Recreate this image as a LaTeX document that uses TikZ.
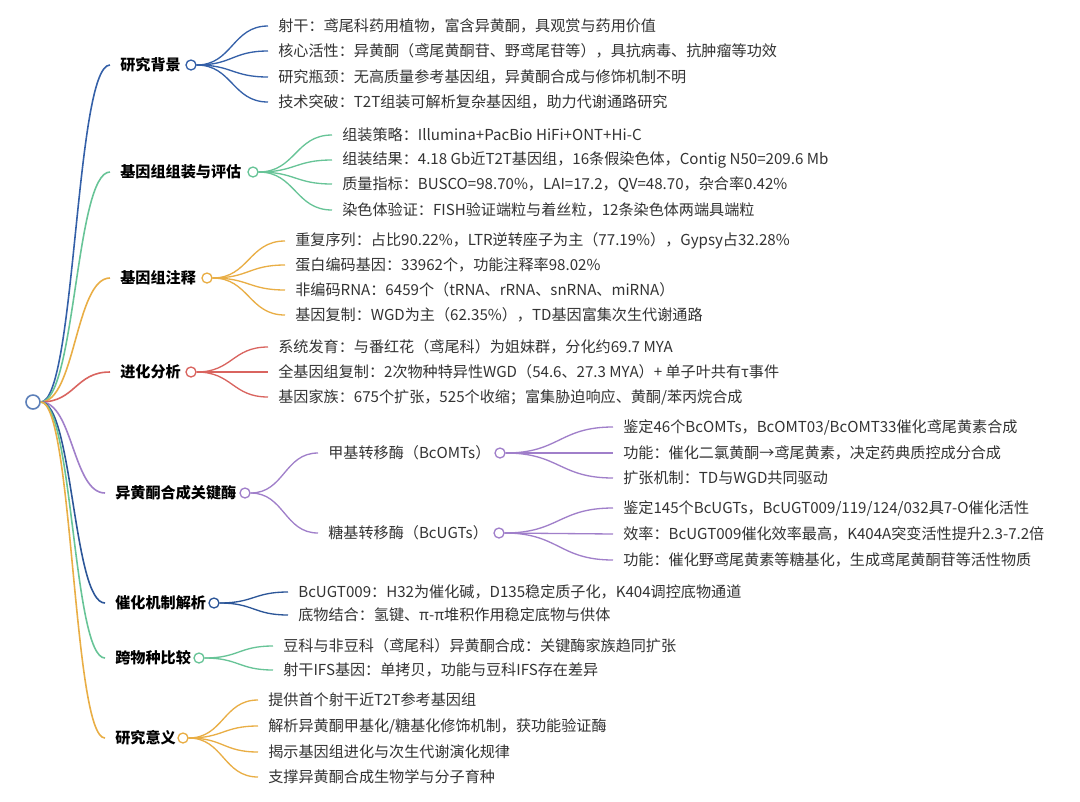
\documentclass[tikz,border=0pt]{standalone}
\usepackage{fontspec}
\setmainfont{Noto Sans CJK SC}
\definecolor{mmBlue}{HTML}{3460A8}
\definecolor{mmGreen}{HTML}{67C497}
\definecolor{mmOrange}{HTML}{E9AE45}
\definecolor{mmRed}{HTML}{D9645F}
\definecolor{mmPurple}{HTML}{A07FCA}
\definecolor{mmNavy}{HTML}{2C5698}
\definecolor{mmText}{HTML}{333333}
\usetikzlibrary{calc}
\tikzset{
	zhuti/.style={
		anchor=west,
		inner xsep=0.2cm,
		inner ysep=1pt,
		font=\fontsize{8.6}{10}\selectfont\bfseries,
		text=black
	},
	yezi/.style={
		anchor=west,
		inner xsep=0.2cm,
		inner ysep=1pt,
		font=\fontsize{8.6}{10}\selectfont,
		text=mmText
	},
	quan/.style={
		circle,
		draw=#1,
		fill=white,
		line width=0.75pt,
		inner sep=0pt,
		minimum size=0.2cm
	},
	genquan/.style={
		circle,
		draw=mmBlue!80,
		fill=white,
		line width=0.9pt,
		inner sep=0pt,
		minimum size=0.28cm
	},
	lian/.style={
		draw=#1,
		line width=0.75pt,
		to path={.. controls ($(\tikztostart)!0.5!(\tikztostart -| \tikztotarget)$)
			and ($(\tikztotarget)!0.5!(\tikztotarget -| \tikztostart)$) .. (\tikztotarget)}
	}
}
\begin{document}
\begin{tikzpicture}[x=0.02cm, y=-0.02cm]
		\path[fill=white, use as bounding box] (0,0) rectangle (1080,802);
		\node[genquan] (gen) at (33,402) {};
		%研究背景
		\node[zhuti] (bj) at (110,65) {研究背景};
		\node[quan=mmBlue] (bjq) at (191,65) {};
		\foreach \y/\t [count=\i] in {26/{射干：鸢尾科药用植物，富含异黄酮，具观赏与药用价值},
			51/{核心活性：异黄酮（鸢尾黄酮苷、野鸢尾苷等），具抗病毒、抗肿瘤等功效},
			77/{研究瓶颈：无高质量参考基因组，异黄酮合成与修饰机制不明},
			102/{技术突破：T2T组装可解析复杂基因组，助力代谢通路研究}}{
			\node[yezi] (bj\i) at (268,\y) {\t};
			\draw[lian=mmBlue] (bjq.east) to (bj\i.west);
		}
		% 基因组组装与评估
		\node[zhuti] (zz) at (110,172) {基因组组装与评估};
		\node[quan=mmGreen] (zzq) at (253,172) {};
		\foreach \y/\t [count=\i] in {135/{组装策略：Illumina+PacBio HiFi+ONT+Hi-C},
			160/{组装结果：4.18 Gb近T2T基因组，16条假染色体，Contig N50=209.6 Mb},
			184/{质量指标：BUSCO=98.70\%，LAI=17.2，QV=48.70，杂合率0.42\%},
			210/{染色体验证：FISH验证端粒与着丝粒，12条染色体两端具端粒}}{
			\node[yezi] (zz\i) at (332,\y) {\t};
			\draw[lian=mmGreen] (zzq.east) to (zz\i.west);
		}
		% 基因组注释
		\node[zhuti] (zs) at (110,278) {基因组注释};
		\node[quan=mmOrange] (zsq) at (207,278) {};
		\foreach \y/\t [count=\i] in {241/{重复序列：占比90.22\%，LTR逆转座子为主（77.19\%），Gypsy占32.28\%},
			265/{蛋白编码基因：33962个，功能注释率98.02\%},
			290/{非编码RNA：6459个（tRNA、rRNA、snRNA、miRNA）},
			315/{基因复制：WGD为主（62.35\%），TD基因富集次生代谢通路}}{
			\node[yezi] (zs\i) at (285,\y) {\t};
			\draw[lian=mmOrange] (zsq.east) to (zs\i.west);
		}
		% 进化分析
		\node[zhuti] (jh) at (110,372) {进化分析};
		\node[quan=mmRed] (jhq) at (191,372) {};
		\foreach \y/\t [count=\i] in {347/{系统发育：与番红花（鸢尾科）为姐妹群，分化约69.7 MYA},
			372/{全基因组复制：2次物种特异性WGD（54.6、27.3 MYA）+ 单子叶共有τ事件},
			397/{基因家族：675个扩张，525个收缩；富集胁迫响应、黄酮/苯丙烷合成}}{
			\node[yezi] (jh\i) at (268,\y) {\t};
			\draw[lian=mmRed] (jhq.east) to (jh\i.west);
		}
		% 异黄酮合成关键酶
		\node[zhuti] (m) at (105,493) {异黄酮合成关键酶};
		\node[quan=mmPurple] (mq) at (245,493) {};
		\node[yezi] (omt) at (318,453) {甲基转移酶（BcOMTs）};
		\node[quan=mmPurple] (omtq) at (500,453) {};
		\node[yezi] (ugt) at (318,533) {糖基转移酶（BcUGTs）};
		\node[quan=mmPurple] (ugtq) at (499,533) {};
		\draw[lian=mmPurple] (mq.east) to (omt.west);
		\draw[lian=mmPurple] (mq.east) to (ugt.west);
		\foreach \y/\t [count=\i] in {427/{鉴定46个BcOMTs，BcOMT03/BcOMT33催化鸢尾黄素合成},
			453/{功能：催化二氯黄酮→鸢尾黄素，决定药典质控成分合成},
			478/{扩张机制：TD与WGD共同驱动}}{
			\node[yezi] (omt\i) at (613,\y) {\t};
			\draw[lian=mmPurple] (omtq.east) to (omt\i.west);
		}
		\foreach \y/\t [count=\i] in {508/{鉴定145个BcUGTs，BcUGT009/119/124/032具7-O催化活性},
			534/{效率：BcUGT009催化效率最高，K404A突变活性提升2.3-7.2倍},
			560/{功能：催化野鸢尾黄素等糖基化，生成鸢尾黄酮苷等活性物质}}{
			\node[yezi] (ugt\i) at (613,\y) {\t};
			\draw[lian=mmPurple] (ugtq.east) to (ugt\i.west);
		}
		% 催化机制解析
		\node[zhuti] (ch) at (105,603) {催化机制解析};
		\node[quan=mmNavy] (chq) at (214,603) {};
		\foreach \y/\t [count=\i] in {592/{BcUGT009：H32为催化碱，D135稳定质子化，K404调控底物通道},
			615/{底物结合：氢键、π-π堆积作用稳定底物与供体}}{
			\node[yezi] (ch\i) at (288,\y) {\t};
			\draw[lian=mmNavy] (chq.east) to (ch\i.west);
		}
		% 跨物种比较
		\node[zhuti] (kw) at (105,658) {跨物种比较};
		\node[quan=mmGreen] (kwq) at (199,658) {};
		\foreach \y/\t [count=\i] in {646/{豆科与非豆科（鸢尾科）异黄酮合成：关键酶家族趋同扩张},
			670/{射干IFS基因：单拷贝，功能与豆科IFS存在差异}}{
			\node[yezi] (kw\i) at (273,\y) {\t};
			\draw[lian=mmGreen] (kwq.east) to (kw\i.west);
		}
		% 研究意义
		\node[zhuti] (yy) at (105,738) {研究意义};
		\node[quan=mmOrange] (yyq) at (183,738) {};
		\foreach \y/\t [count=\i] in {700/{提供首个射干近T2T参考基因组},
			726/{解析异黄酮甲基化/糖基化修饰机制，获功能验证酶},
			752/{揭示基因组进化与次生代谢演化规律},
			777/{支撑异黄酮合成生物学与分子育种}}{
			\node[yezi] (yy\i) at (258,\y) {\t};
			\draw[lian=mmOrange] (yyq.east) to (yy\i.west);
		}
		% 根部连线
		\foreach \n/\c in {bj/mmBlue,zz/mmGreen,zs/mmOrange,jh/mmRed,m/mmPurple,ch/mmNavy,kw/mmGreen,yy/mmOrange}{
			\draw[lian=\c, line width=0.9pt] (gen.east) to (\n.west);
		}
	\end{tikzpicture}
\end{document}
